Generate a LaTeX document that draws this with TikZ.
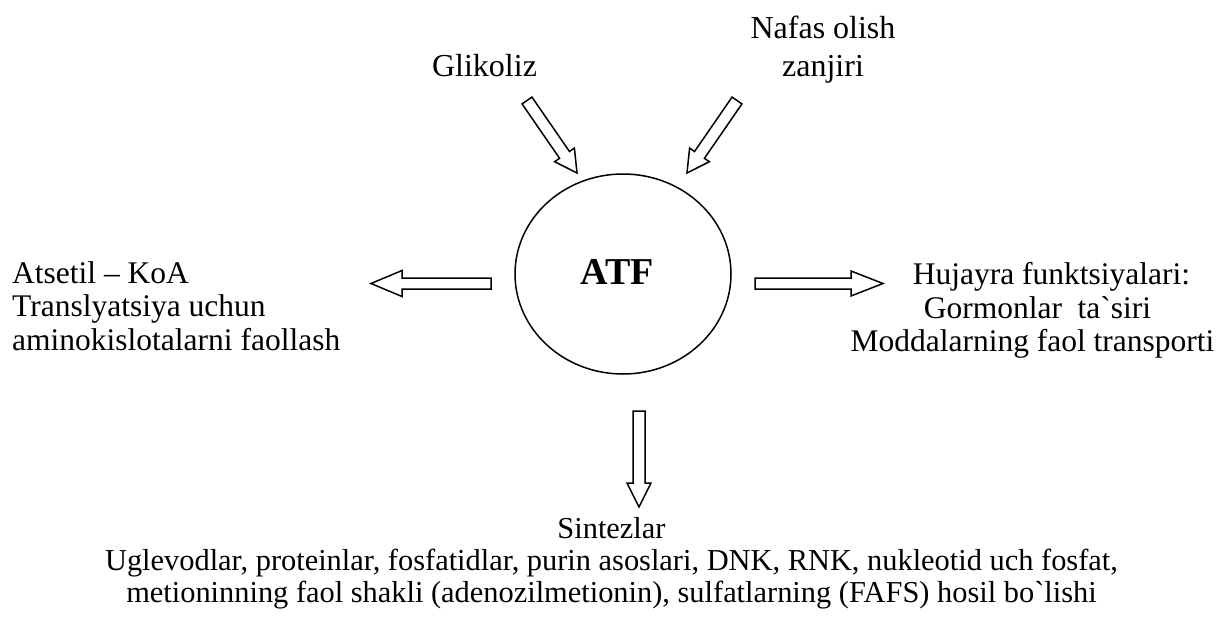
\documentclass[tikz,border=0pt]{standalone}
\usepackage{fontspec}
\setmainfont{Liberation Serif}
\usetikzlibrary{calc}

% hollow block arrow from #1 (tail) to #2 (tip):
% #3 half shaft width, #4 half head width, #5 head length (all in pt)
\newcommand{\hollowarrow}[5]{%
  \path ($(#2)!#5pt!(#1)$) coordinate (hb);
  \draw[blockline]
    ($(#1)!#3pt!90:(#2)$) -- ($(hb)!#3pt!90:(#2)$) -- ($(hb)!#4pt!90:(#2)$)
    -- (#2)
    -- ($(hb)!#4pt!-90:(#2)$) -- ($(hb)!#3pt!-90:(#2)$) -- ($(#1)!#3pt!-90:(#2)$)
    -- cycle;
}

\tikzset{
  blockline/.style={draw=black, fill=white, line width=1.5pt, line join=miter},
  label/.style={inner sep=0pt, font=\fontsize{31.5}{33.5}\selectfont},
}

\begin{document}
\begin{tikzpicture}[x=1pt, y=-1pt]
  \useasboundingbox[fill=white] (0,0) rectangle (1221,619);

  % central ellipse
  \draw[line width=1.5pt] (623,274) ellipse [x radius=108, y radius=100];
  \node[inner sep=0pt, font=\fontsize{38}{40}\selectfont\bfseries] (atf) at (617,271.5) {ATF};

  % texts (multi-line nodes are placed by the baseline of their last line)
  \node[label, anchor=base, font=\fontsize{32}{38}\selectfont] (glik) at (484.5,76) {Glikoliz};
  \node[label, anchor=base, align=center, font=\fontsize{32}{38}\selectfont] (nafas) at (823,76) {Nafas olish\\zanjiri};
  \node[label, anchor=base west, align=left] (left) at (12,350)
    {Atsetil -- KoA\\Translyatsiya uchun\\aminokislotalarni faollash};
  \node[label, anchor=base, align=center] (right) at (1037.5,351.5)
    {\hspace*{28pt}Hujayra funktsiyalari:\\Gormonlar\ \ ta\textasciigrave siri\\Moddalarning faol transporti\hspace*{10pt}};
  \node[label, anchor=base, align=center, font=\fontsize{30.4}{32}\selectfont] (synth) at (611.5,602)
    {Sintezlar\\Uglevodlar, proteinlar, fosfatidlar, purin asoslari, DNK, RNK, nukleotid uch fosfat,\\metioninning faol shakli (adenozilmetionin), sulfatlarning (FAFS) hosil bo\textasciigrave lishi};

  % arrow end points
  \coordinate (g1) at (527,100.5);  \coordinate (g2) at (577,173);
  \coordinate (n1) at (737,100.5);  \coordinate (n2) at (687,173);
  \coordinate (l1) at (491,283.5);  \coordinate (l2) at (371,283.5);
  \coordinate (r1) at (755,283.5);  \coordinate (r2) at (883,283.5);
  \coordinate (d1) at (639,411);    \coordinate (d2) at (639,507);

  \hollowarrow{g1}{g2}{6}{12}{22}
  \hollowarrow{n1}{n2}{6}{12}{22}
  \hollowarrow{l1}{l2}{5.5}{13}{31}
  \hollowarrow{r1}{r2}{5.5}{12.5}{32}
  \hollowarrow{d1}{d2}{6}{12}{24}
\end{tikzpicture}
\end{document}
